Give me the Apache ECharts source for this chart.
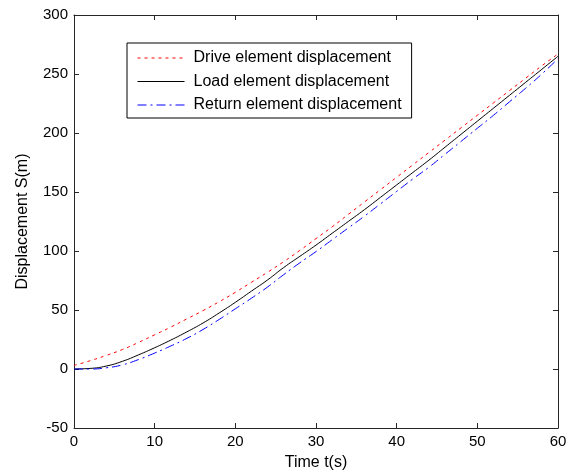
<!DOCTYPE html>
<html>
<head>
<meta charset="utf-8">
<script src="https://cdn.jsdelivr.net/npm/echarts@6/dist/echarts.min.js"></script>
<style>
html,body{margin:0;padding:0;background:#fff;}
#chart{width:573px;height:470px;}
</style>
</head>
<body>
<div id="chart"></div>
<script>
var timeValues = [0,2,4,6,8,10,12,14,16,18,20,22,24,26,28,30,32,34,36,38,40,42,44,46,48,50,52,54,56,58,60];
var driveDisp = [3,7,11.5,16.5,22.5,29,35.5,42.5,49.5,57,65,73.5,82,91,100.5,110.5,120.5,131,141.5,152,162.5,173,183.5,194,204.5,215,225.5,236,246.5,257,267];
var loadDisp = [0,0.5,2.5,6.5,12,18,24.5,31.5,39,47.5,56.5,66,75.5,86,95.5,105,115,125,135,145.5,156,166.5,177,188,199,210,221,232,243,254,265];
var returnDisp = [0,0,1,3.5,8,13.5,19.5,26,33.5,42,51,60,69.5,80,90,99.5,109.5,119.5,129.5,140,150.5,161,171,182,193,204,215,226.5,238,250,263];
var seriesNames = ['Drive element displacement','Load element displacement','Return element displacement'];
var xTitle = 'Time t(s)';
var yTitle = 'Displacement S(m)';

function pairs(ys){ return timeValues.map(function(t,i){ return [t, ys[i]]; }); }

var font = 'Liberation Sans, Arial, sans-serif';
var axisCol = '#262626';
var chart = echarts.init(document.getElementById('chart'), null, {renderer:'canvas'});
var baseAxis = {
  axisLine:{show:true, onZero:false, lineStyle:{color:axisCol, width:1}},
  axisTick:{show:true, inside:true, length:5, lineStyle:{color:axisCol}},
  splitLine:{show:false},
  axisLabel:{color:'#000', fontFamily:font, fontSize:15}
};
chart.setOption({
  animation:false,
  backgroundColor:'#fff',
  grid:{left:74, right:15, top:15, bottom:42, containLabel:false, outerBoundsMode:'none'},
  legend:{
    orient:'vertical', left:127, top:43,
    itemWidth:47, itemHeight:16, itemGap:7.5,
    padding:[7,10,5,10],
    borderColor:'#000', borderWidth:1, backgroundColor:'#fff',
    itemStyle:{opacity:0},
    lineStyle:{width:1},
    textStyle:{color:'#000', fontFamily:font, fontSize:16, lineHeight:16, padding:[0,0,0,4]},
    data:seriesNames
  },
  xAxis:[
    Object.assign({}, baseAxis, {type:'value', position:'bottom', min:0, max:60, interval:10,
      name:xTitle, nameLocation:'middle', nameGap:27,
      nameTextStyle:{color:'#000', fontFamily:font, fontSize:16},
      axisLabel:{color:'#000', fontFamily:font, fontSize:15, margin:6}}),
    Object.assign({}, baseAxis, {type:'value', position:'top', min:0, max:60, interval:10,
      axisLabel:{show:false}})
  ],
  yAxis:[
    Object.assign({}, baseAxis, {type:'value', position:'left', min:-50, max:300, interval:50,
      name:yTitle, nameLocation:'middle', nameGap:43,
      nameTextStyle:{color:'#000', fontFamily:font, fontSize:16},
      axisLabel:{color:'#000', fontFamily:font, fontSize:15, margin:6}}),
    Object.assign({}, baseAxis, {type:'value', position:'right', min:-50, max:300, interval:50,
      axisLabel:{show:false}})
  ],
  series:[
    {name:seriesNames[0], type:'line', data:pairs(driveDisp), symbol:'none', showSymbol:false, smooth:true,
     color:'#ff0000', lineStyle:{color:'#ff0000', width:1, type:[3,4]}},
    {name:seriesNames[1], type:'line', data:pairs(loadDisp), symbol:'none', showSymbol:false, smooth:true,
     color:'#000000', lineStyle:{color:'#000000', width:1, type:'solid'}},
    {name:seriesNames[2], type:'line', data:pairs(returnDisp), symbol:'none', showSymbol:false, smooth:true,
     color:'#0000ff', lineStyle:{color:'#0000ff', width:1, type:[9,4,2,4]}}
  ]
});
</script>
</body>
</html>
